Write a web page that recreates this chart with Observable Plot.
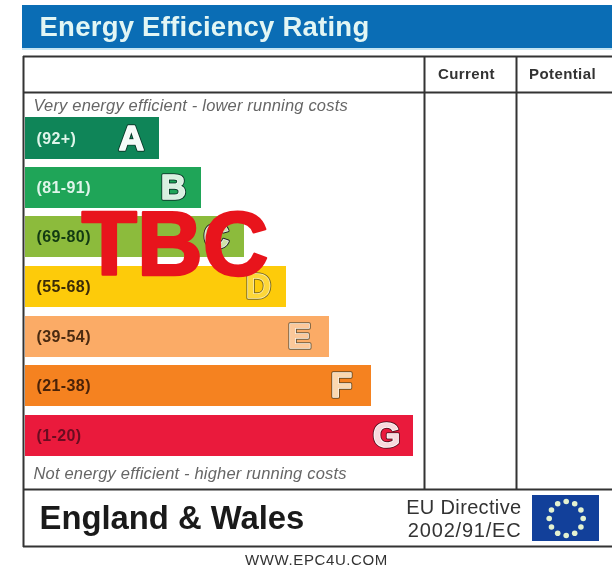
<!DOCTYPE html>
<html>
<head>
<meta charset="utf-8">
<script src="https://cdn.jsdelivr.net/npm/d3@7"></script>
<script src="https://cdn.jsdelivr.net/npm/@observablehq/plot@0.6"></script>
<style>
html,body{margin:0;padding:0;background:#fff}
svg{display:block;filter:blur(0.55px)}
.ls-title{letter-spacing:.25px}
.ls-note{letter-spacing:.18px}
.ls-range{letter-spacing:.4px}
.ls-col{letter-spacing:.4px}
.ls-eu1{letter-spacing:.35px}
.ls-eu2{letter-spacing:.8px}
.ls-www{letter-spacing:.6px}
</style>
</head>
<body>
<script>
const bands = ["A","B","C","D","E","F","G"];
const ranges = ["(92+)","(81-91)","(69-80)","(55-68)","(39-54)","(21-38)","(1-20)"];
const barEnds = [159,201,244,286,329,371,413];
const barTops = [117,167,216,266,316,365,415];
const barBottoms = [159,208,257,307,357,406,456];
const barColors = ["#0f8558","#1fa558","#8cbb3c","#fdcb0a","#fbab66","#f58220","#ea1a3c"];
const rangeColors = ["#dff5ea","#dff5ea","#123a12","#3a2a08","#4a2a10","#4a2208","#6a0c20"];
const letterX = [131,173,216,258,299,341,386];
const letterEdge = ["#0b3a2a","#0b3a2a","#222","#7a6a20","#6a5a40","#6a4a20","#5a1020"];
const letterHalo = ["#fff","#f2fbf4","#eee","#fff0b0","#fff3e4","#fff6ea","#fff"];
const letterCore = ["#f4fbf8","#d8f0e0","#cfe0a8","#fdd73a","#fcc89a","#fbd8b0","#f8d8dc"];
const clockHours = [0,1,2,3,4,5,6,7,8,9,10,11];

const rows = bands.map((b,i)=>({band:b, range:ranges[i], x2:barEnds[i], y1:barTops[i], y2:barBottoms[i],
  color:barColors[i], rangeColor:rangeColors[i], lx:letterX[i], edge:letterEdge[i], halo:letterHalo[i], core:letterCore[i]}));

const font = "Liberation Sans";
const chart = Plot.plot({
  width:612, height:569, margin:0,
  style:{background:"#fff", fontFamily:font},
  x:{domain:[0,612], range:[0,612], axis:null},
  y:{domain:[0,569], range:[0,569], axis:null},
  marks:[
    // header
    Plot.rectY([0],{x1:22,x2:612,y1:5,y2:48,fill:"#0a6db5"}),
    Plot.rectY([0],{x1:22,x2:612,y1:48,y2:50,fill:"#c4e4f2"}),
    Plot.text(["Energy Efficiency Rating"],{className:"ls-title",x:39,y:27,text:d=>d,textAnchor:"start",fontSize:27.5,fontWeight:"bold",fill:"#e2f6f4"}),
    // bars
    Plot.rectX(rows,{x1:25,x2:"x2",y1:"y1",y2:"y2",fill:"color"}),
    Plot.text(rows,{className:"ls-range",x:36,y:d=>(d.y1+d.y2)/2,text:"range",textAnchor:"start",fontSize:16,fontWeight:"bold",fill:"rangeColor"}),
    Plot.text(rows,{x:"lx",y:d=>(d.y1+d.y2)/2,text:"band",fontSize:35,fontWeight:"bold",fill:"core",stroke:"edge",strokeWidth:3.5}),
    Plot.text(rows,{x:"lx",y:d=>(d.y1+d.y2)/2,text:"band",fontSize:35,fontWeight:"bold",fill:"core",stroke:"halo",strokeWidth:1.6}),
    // frame
    Plot.ruleY([56,92,489,546],{x1:23,x2:612,stroke:"#333",strokeWidth:2}),
    Plot.ruleX([23],{y1:56,y2:547,stroke:"#333",strokeWidth:2}),
    Plot.ruleX([424,516],{y1:56,y2:489,stroke:"#333",strokeWidth:2}),
    // captions
    Plot.text(["Very energy efficient - lower running costs"],{className:"ls-note",x:33,y:105,text:d=>d,textAnchor:"start",fontSize:16.5,fontStyle:"italic",fill:"#666"}),
    Plot.text(["Not energy efficient - higher running costs"],{className:"ls-note",x:33,y:473,text:d=>d,textAnchor:"start",fontSize:16.5,fontStyle:"italic",fill:"#666"}),
    Plot.text(["Current"],{className:"ls-col",x:466,y:74,text:d=>d,fontSize:15,fontWeight:"bold",fill:"#333"}),
    Plot.text(["Potential"],{className:"ls-col",x:562,y:74,text:d=>d,fontSize:15,fontWeight:"bold",fill:"#333"}),
    // footer
    Plot.text(["England & Wales"],{x:39,y:518,text:d=>d,textAnchor:"start",fontSize:32.8,fontWeight:"bold",fill:"#1a1a1a"}),
    Plot.text(["EU Directive"],{className:"ls-eu1",x:521,y:507,text:d=>d,textAnchor:"end",fontSize:20,fill:"#333"}),
    Plot.text(["2002/91/EC"],{className:"ls-eu2",x:521,y:530,text:d=>d,textAnchor:"end",fontSize:20,fill:"#333"}),
    Plot.rectY([0],{x1:532,x2:599,y1:495,y2:541,fill:"#12409a"}),
    Plot.dot(clockHours,{x:h=>565.7+17*Math.sin(h*Math.PI/6),y:h=>518-17*Math.cos(h*Math.PI/6),r:2.8,fill:"#e4f2d0"}),
    Plot.text(["WWW.EPC4U.COM"],{className:"ls-www",x:316,y:560,text:d=>d,fontSize:15,fill:"#333"}),
    // stamp
    Plot.text(["TBC"],{x:81,y:245,text:d=>d,textAnchor:"start",fontSize:91,fontWeight:"bold",fill:"#e8141c",stroke:"#e8141c",strokeWidth:2.5})
  ]
});
document.body.appendChild(chart);
</script>
</body>
</html>
